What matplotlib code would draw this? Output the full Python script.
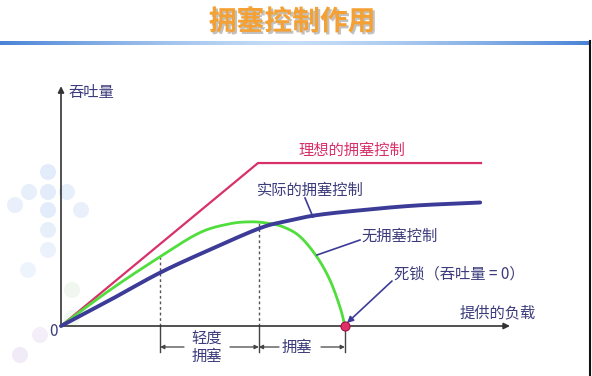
import numpy as np
import matplotlib
matplotlib.use("Agg")
import matplotlib.pyplot as plt
import matplotlib.patches as mpatches
import matplotlib.patheffects as pe

plt.rcParams['font.family'] = ['Noto Sans CJK SC', 'DejaVu Sans']

# offered load vs throughput (arbitrary units)
ideal_load = [0, 4.69, 10.0]
ideal_thr = [0, 3.88, 3.88]

actual_load = [0, 1.17, 2.36, 3.55, 4.71, 5.29, 6.09, 7.28, 8.47, 9.98]
actual_thr = [0, 0.62, 1.27, 1.82, 2.32, 2.48, 2.64, 2.77, 2.87, 2.94]

none_load = [0, 1.17, 2.36, 3.30, 4.00, 4.50, 4.90, 5.29, 5.69, 6.09, 6.40, 6.64, 6.76]
none_thr = [0, 0.86, 1.65, 2.22, 2.43, 2.48, 2.45, 2.36, 2.13, 1.65, 1.10, 0.46, 0]

light_start = 2.36   # start of light congestion
heavy_start = 4.71   # start of congestion
deadlock = 6.76

title = "拥塞控制作用"
txt = "#3c3c7c"
red = "#d8306a"
green = "#50de3c"
blue = "#3c3c98"


def smooth(xs, ys, n=20):
    # catmull-rom through the read points, just for drawing
    pts = np.column_stack([xs, ys]).astype(float)
    pts = np.vstack([2 * pts[0] - pts[1], pts, 2 * pts[-1] - pts[-2]])
    out = []
    t = np.linspace(0, 1, n, endpoint=False)[:, None]
    for i in range(1, len(pts) - 2):
        p0, p1, p2, p3 = pts[i - 1], pts[i], pts[i + 1], pts[i + 2]
        out.append(0.5 * ((2 * p1) + (-p0 + p2) * t + (2 * p0 - 5 * p1 + 4 * p2 - p3) * t ** 2
                          + (-p0 + 3 * p1 - 3 * p2 + p3) * t ** 3))
    out.append(pts[-2][None, :])
    out = np.vstack(out)
    return out[:, 0], out[:, 1]


fig = plt.figure(figsize=(5.92, 3.76), dpi=100)
ax = fig.add_axes([0, 0, 1, 1])
S = 42.0
ax.set_xlim(-61 / S, 531 / S)
ax.set_ylim(-50 / S, 326 / S)
ax.axis('off')

def P(x, y):
    # pixel position -> data units
    return ((x - 61) / S, (326 - y) / S)

# faint background dots on the left
dots = [(48, 172, '#e3ecfa'), (29, 192, '#e7effb'), (48, 192, '#e3ecfa'), (67, 192, '#e7effb'),
        (15, 205, '#e9f0fb'), (48, 210, '#e3ecfa'), (81, 210, '#e9f0fb'), (48, 230, '#e7effb'),
        (48, 250, '#ecf2fc'), (28, 270, '#eef4fc'), (72, 290, '#eff7ee'), (72, 318, '#f1f8f0'),
        (40, 335, '#f3eef8'), (20, 355, '#f1eaf7')]
for dx, dy, c in dots:
    ax.add_patch(mpatches.Circle(P(dx, dy), 8 / S, color=c, zorder=0, lw=0))

# header bar
hax = fig.add_axes([0, 1 - 45 / 376, 589 / 592, 4 / 376])
grad = 1 - np.abs(np.linspace(-1, 1, 300)) ** 1.5
hax.imshow(grad[None, :], aspect='auto', cmap=matplotlib.colors.LinearSegmentedColormap.from_list(
    'hb', ['#4a84d6', '#c4dcf6']), vmin=0, vmax=1)
hax.axis('off')
fig.add_artist(plt.Line2D([589.5 / 592, 589.5 / 592], [0, 1 - 41 / 376], color='#111111', lw=1.5))

fig.text(292 / 592, 1 - 22 / 376, title, ha='center', va='center', fontsize=20, weight='bold',
         color='#f4a032', path_effects=[pe.withSimplePatchShadow(offset=(1.5, -1.5), shadow_rgbFace='#999999', alpha=0.6)])

# axes with arrows
ax.annotate('', xy=(0, 5.71), xytext=(0, 0),
            arrowprops=dict(arrowstyle='-|>', color='#333333', lw=1.2, mutation_scale=9, shrinkA=0, shrinkB=0))
ax.annotate('', xy=(10.69, 0), xytext=(0, 0),
            arrowprops=dict(arrowstyle='-|>', color='#333333', lw=1.2, mutation_scale=9, shrinkA=0, shrinkB=0))

gx, gy = smooth(none_load, none_thr)
bx, by = smooth(actual_load, actual_thr)

# dotted guides and ticks under axis
for xv in [light_start, heavy_start]:
    yv = np.interp(xv, gx, gy)
    ax.plot([xv, xv], [0, yv], color='#555555', lw=1, ls=(0, (2, 2)), zorder=1)
for xv in [light_start, heavy_start, deadlock]:
    ax.plot([xv, xv], [0, -26 / S], color='#444444', lw=1, zorder=1)

ax.plot(ideal_load, ideal_thr, color=red, lw=1.6, zorder=3, solid_joinstyle='miter')
ax.plot(gx, gy, color=green, lw=2.0, zorder=3, solid_capstyle='round')
ax.plot(bx, by, color=blue, lw=2.8, zorder=4, solid_capstyle='round')
ax.plot([deadlock], [0], 'o', ms=6.5, mfc='#e0306a', mec='#a01040', mew=0.8, zorder=6)

fs = 11
ax.text(*P(68, 92), "吞吐量", fontsize=fs, color=txt, ha='left', va='center')
ax.text(*P(54, 332), "0", fontsize=fs, color=txt, ha='center', va='center')
ax.text(*P(298, 150), "理想的拥塞控制", fontsize=fs, color=red, ha='left', va='center')
ax.text(*P(257, 190), "实际的拥塞控制", fontsize=fs, color=txt, ha='left', va='center')
ax.text(*P(361, 236), "无拥塞控制", fontsize=fs, color=txt, ha='left', va='center')
ax.text(*P(394, 274), "死锁（吞吐量 = 0）", fontsize=fs, color=txt, ha='left', va='center')
ax.text(*P(460, 313), "提供的负载", fontsize=fs, color=txt, ha='left', va='center')
ax.text(*P(207, 339), "轻度", fontsize=fs, color=txt, ha='center', va='center')
ax.text(*P(207, 356), "拥塞", fontsize=fs, color=txt, ha='center', va='center')
ax.text(*P(297, 347), "拥塞", fontsize=fs, color=txt, ha='center', va='center')

# leader lines
ax.plot(*zip(P(305, 198), P(313, 217)), color=blue, lw=1.2, zorder=5)
ax.plot(*zip(P(360, 240), P(317, 255)), color=blue, lw=1.2, zorder=5)
ax.annotate('', xy=P(347, 323), xytext=P(392, 281),
            arrowprops=dict(arrowstyle='-|>', color=blue, lw=1.2, mutation_scale=9, shrinkA=0, shrinkB=0), zorder=5)

# range arrows under the axis
ya = P(0, 347)[1]
arr = dict(arrowstyle='-|>', color='#444444', lw=0.9, mutation_scale=6, shrinkA=0, shrinkB=0)
ax.annotate('', xy=(light_start, ya), xytext=(P(184, 0)[0], ya), arrowprops=arr)
ax.annotate('', xy=(heavy_start, ya), xytext=(P(230, 0)[0], ya), arrowprops=arr)
ax.annotate('', xy=(heavy_start, ya), xytext=(P(279, 0)[0], ya), arrowprops=arr)
ax.annotate('', xy=(deadlock, ya), xytext=(P(321, 0)[0], ya), arrowprops=arr)

fig.savefig('out.png', dpi=100)
